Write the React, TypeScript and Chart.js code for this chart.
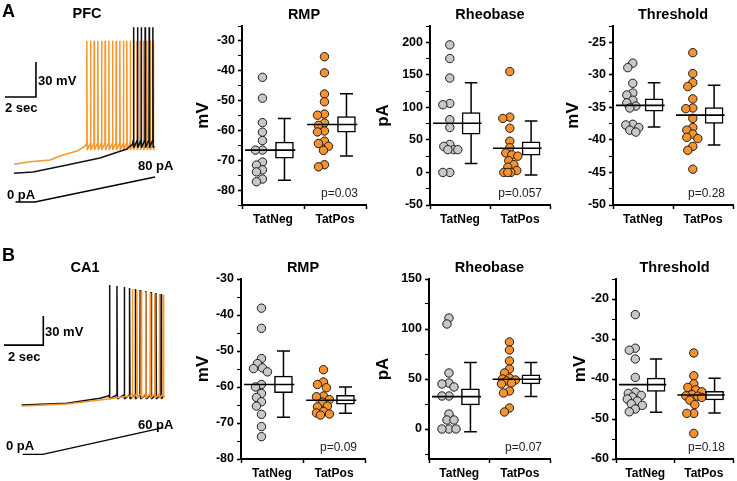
import React, { useEffect, useRef } from 'react';
import { Chart, registerables } from 'chart.js';

Chart.register(...registerables);

const FONT = "'Liberation Sans', Arial, Helvetica, sans-serif";
Chart.defaults.font.family = FONT;
Chart.defaults.color = '#000';

const GROUPS = ['TatNeg', 'TatPos'];
const GRAY = '#C8C8C8';
const ORANGE = '#F7922F';
const TRACE_ORANGE = '#F7962A';

// ---------------- PFC (A) scatter data ----------------
const pfcRmpNeg = [-42.2, -49.2, -57.4, -60.6, -63.4, -66.6, -66.6, -70.6, -71.6, -73.2, -73.9, -76.3, -77.2];
const pfcRmpPos = [-35.3, -40.7, -47.8, -50.4, -54.5, -54.9, -57.5, -58.3, -60.2, -60.5, -63.6, -64.4, -65.3, -66.7, -71.5, -72.2];
const pfcRmpMean = [-66.6, -58.0];
const pfcRmpSem = [[-69.3, -63.9], [-60.6, -55.4]];
const pfcRmpSd = [[-76.7, -56.0], [-68.6, -47.7]];

const pfcRheoNeg = [196, 175, 145, 106, 104, 81, 69, 43, 40, 35, 35, 35, 0, 0];
const pfcRheoPos = [155, 85, 83, 68, 48, 38, 30, 27, 25, 18, 12, 8, 3, 0, 0, 0];
const pfcRheoMean = [75.5, 37.2];
const pfcRheoSem = [[58.7, 91.8], [26.5, 47.0]];
const pfcRheoSd = [[13.8, 137.8], [-4.0, 79.0]];

const pfcThrNeg = [-28.2, -28.9, -31.3, -32.8, -33.1, -33.9, -34.3, -34.8, -35.1, -37.6, -37.7, -38.1, -38.5, -38.8];
const pfcThrPos = [-26.6, -29.8, -31.2, -31.8, -33.7, -35.1, -35.2, -36.7, -38.1, -38.5, -39.1, -39.6, -39.8, -41.0, -41.6, -44.5];
const pfcThrMean = [-34.7, -36.2];
const pfcThrSem = [[-35.6, -33.7], [-37.45, -35.05]];
const pfcThrSd = [[-38.0, -31.2], [-40.8, -31.6]];

// ---------------- CA1 (B) scatter data ----------------
const ca1RmpNeg = [-38.1, -43.7, -52.1, -53.5, -54.7, -54.9, -55.8, -59.3, -60.0, -61.8, -62.9, -64.1, -65.3, -67.6, -71.0, -73.8];
const ca1RmpPos = [-55.2, -58.6, -59.3, -60.2, -62.5, -62.7, -63.5, -64.2, -65.3, -65.5, -66.8, -67.2, -67.5, -67.8];
const ca1RmpMean = [-59.3, -63.7];
const ca1RmpSem = [[-61.6, -57.0], [-64.8, -62.3]];
const ca1RmpSd = [[-68.4, -50.0], [-67.3, -60.0]];

const ca1RheoNeg = [111, 105, 56, 46, 45, 42, 33, 33, 15, 9, 9, 0, 0, 0];
const ca1RheoPos = [87, 79, 68, 60, 56, 51, 50, 49, 48, 46, 45, 38, 36, 21, 17];
const ca1RheoMean = [32.4, 49.8];
const ca1RheoSem = [[24.1, 40.1], [45.2, 54.2]];
const ca1RheoSd = [[-2.7, 66.6], [32.4, 66.6]];

const ca1ThrNeg = [-23.9, -32.3, -32.8, -35.0, -39.6, -43.3, -43.6, -44.1, -44.5, -45.0, -45.5, -46.2, -46.6, -47.5, -48.2];
const ca1ThrPos = [-33.5, -39.2, -41.2, -42.1, -42.7, -43.2, -43.9, -44.2, -44.3, -44.6, -45.3, -46.4, -48.6, -48.6, -53.6];
const ca1ThrMean = [-41.4, -44.0];
const ca1ThrSem = [[-43.1, -39.8], [-45.25, -43.1]];
const ca1ThrSd = [[-48.3, -35.0], [-48.5, -39.8]];

// ---------------- Traces (time s, membrane mV) ----------------
const pfcBlackBase = [[-0.1, -70.4], [1.13, -69.3], [3.32, -63.3], [5.45, -57.3], [7.19, -49.6], [7.55, -45.5]];
const pfcBlackSpikes = [7.60, 7.86, 8.10, 8.35, 8.61, 8.85];
const pfcBlackPeaks = [54.7, 54.7, 54.7, 54.7, 54.7, 54.7];
const pfcBlackLevels = [-42.0, -48.4]; // threshold, trough
const pfcBlackEnd = [8.95, -47.0];

const pfcOrangeBase = [[-0.1, -62.7], [0.93, -60.5], [2.23, -59.0], [3.06, -54.7], [3.97, -51.3], [4.5, -47.0]];
const pfcOrangeSpikes = [4.59, 4.83, 5.06, 5.30, 5.54, 5.77, 6.01, 6.25, 6.48, 6.72, 6.95, 7.17, 7.39, 7.60, 7.82, 8.03, 8.25, 8.46, 8.68, 8.87];
const pfcOrangePeaks = [43.3, 43.3, 43.3, 43.3, 43.3, 43.3, 43.3, 43.3, 43.3, 43.3, 43.3, 43.3, 43.3, 43.3, 43.3, 43.3, 43.3, 43.3, 43.3, 43.3];
const pfcOrangeLevels = [-44.4, -50.4];
const pfcOrangeEnd = [8.95, -48.0];

const pfcRamp = [[0, 0], [1.25, 0], [9.0, 80]]; // s, pA
const pfcScaleBar = [[-0.68, -5], [1.32, -5], [1.32, 25]]; // 2 s, 30 mV

const ca1BlackBase = [[0.1, -70.0], [2.39, -68.2], [4.08, -63.0], [4.5, -60.6]];
const ca1BlackSpikes = [4.55, 4.93, 5.30, 5.57, 5.86, 6.11, 6.40, 6.66, 6.91, 7.17];
const ca1BlackPeaks = [54.1, 53.1, 52.1, 51.0, 50.0, 49.0, 47.9, 46.9, 45.9, 44.8];
const ca1BlackLevels = [-59.6, -63.7];
const ca1BlackEnd = [7.3, -61.0];

const ca1OrangeBase = [[0.1, -71.0], [2.39, -68.9], [4.08, -64.8], [5.6, -60.6]];
const ca1OrangeSpikes = [5.71, 5.94, 6.16, 6.39, 6.62, 6.85, 7.08, 7.28];
const ca1OrangePeaks = [50.0, 49.0, 47.9, 46.9, 45.9, 44.8, 44.8, 43.8];
const ca1OrangeLevels = [-58.6, -62.7];
const ca1OrangeEnd = [7.35, -60.0];

const ca1Ramp = [[0.15, 0], [1.17, 0], [7.3, 60]];
const ca1ScaleBar = [[-0.8, -8], [1.2, -8], [1.2, 22]];

// ---------------- helpers ----------------
// Beeswarm-style horizontal placement (in pixel space) so that markers do not pile up.
function swarm(values: number[], center: number, pxX: number, pxY: number) {
  const minD = 6.2;
  const maxDx = 8;
  const placed: { dx: number; py: number }[] = [];
  const out: { x: number; y: number }[] = [];
  const idx = values.map((_, i) => i).sort((a, b) => values[b] - values[a]);
  for (const i of idx) {
    const py = values[i] * pxY;
    let chosen = 0;
    let bestScore = -1;
    for (let k = 0; k <= maxDx * 2; k++) {
      const dx = (k % 2 === 1 ? -1 : 1) * Math.ceil(k / 2);
      let dmin = Infinity;
      for (const p of placed) dmin = Math.min(dmin, Math.hypot(p.dx - dx, p.py - py));
      if (dmin >= minD) { chosen = dx; bestScore = Infinity; break; }
      if (dmin > bestScore) { bestScore = dmin; chosen = dx; }
    }
    placed.push({ dx: chosen, py });
    out.push({ x: center + chosen / pxX, y: values[i] });
  }
  return out;
}

function buildTrace(base: number[][], spikes: number[], peaks: number[], levels: number[], end: number[]) {
  const pts: { x: number; y: number }[] = base.map(([x, y]) => ({ x, y }));
  spikes.forEach((t, i) => {
    pts.push({ x: t, y: levels[0] }, { x: t + 0.012, y: peaks[i] }, { x: t + 0.035, y: levels[1] });
  });
  pts.push({ x: end[0], y: end[1] });
  return pts;
}

const pvalPlugin = {
  id: 'pval',
  afterDraw(chart: any, _args: any, opts: any) {
    if (!opts || !opts.text) return;
    const { ctx, chartArea } = chart;
    ctx.save();
    ctx.font = `12px ${FONT}`;
    ctx.fillStyle = '#222';
    ctx.textAlign = 'right';
    ctx.textBaseline = 'middle';
    ctx.fillText(opts.text, chartArea.right - 8, chartArea.bottom - 11);
    ctx.restore();
  },
};

type PanelCfg = {
  key: string;
  left: number; top: number; width: number; height: number;
  yW: number; rightPad: number; xH: number; titleTop: number;
  unitPad: number;
  title: string; unit: string; p: string;
  min: number; max: number; major: number; minor: number;
  neg: number[]; pos: number[]; mean: number[]; sem: number[][]; sd: number[][];
};

const TITLE_SIZE = 14.5;
const TITLE_BOTTOM = 2.6;

const panels: PanelCfg[] = [
  { key: 'pfcRmp', left: 178, top: 0, width: 192, height: 235, yW: 64, rightPad: 4, xH: 30, titleTop: 6, unitPad: 14.8,
    title: 'RMP', unit: 'mV', p: 'p=0.03', min: -85, max: -25, major: 10, minor: 5,
    neg: pfcRmpNeg, pos: pfcRmpPos, mean: pfcRmpMean, sem: pfcRmpSem, sd: pfcRmpSd },
  { key: 'pfcRheo', left: 370, top: 0, width: 184, height: 235, yW: 60, rightPad: 4, xH: 30, titleTop: 6, unitPad: 2.8,
    title: 'Rheobase', unit: 'pA', p: 'p=0.057', min: -50, max: 225, major: 50, minor: 25,
    neg: pfcRheoNeg, pos: pfcRheoPos, mean: pfcRheoMean, sem: pfcRheoSem, sd: pfcRheoSd },
  { key: 'pfcThr', left: 553, top: 0, width: 184, height: 235, yW: 60, rightPad: 4, xH: 30, titleTop: 6, unitPad: 9.8,
    title: 'Threshold', unit: 'mV', p: 'p=0.28', min: -50, max: -22.5, major: 5, minor: 2.5,
    neg: pfcThrNeg, pos: pfcThrPos, mean: pfcThrMean, sem: pfcThrSem, sd: pfcThrSd },
  { key: 'ca1Rmp', left: 178, top: 245, width: 192, height: 236, yW: 63, rightPad: 5, xH: 22, titleTop: 14, unitPad: 14.8,
    title: 'RMP', unit: 'mV', p: 'p=0.09', min: -80, max: -30, major: 10, minor: 5,
    neg: ca1RmpNeg, pos: ca1RmpPos, mean: ca1RmpMean, sem: ca1RmpSem, sd: ca1RmpSd },
  { key: 'ca1Rheo', left: 369, top: 245, width: 185, height: 236, yW: 60, rightPad: 4, xH: 22, titleTop: 14, unitPad: 3.8,
    title: 'Rheobase', unit: 'pA', p: 'p=0.07', min: -30, max: 150, major: 50, minor: 25,
    neg: ca1RheoNeg, pos: ca1RheoPos, mean: ca1RheoMean, sem: ca1RheoSem, sd: ca1RheoSd },
  { key: 'ca1Thr', left: 556, top: 245, width: 181, height: 236, yW: 60, rightPad: 4, xH: 22, titleTop: 14, unitPad: 13.8,
    title: 'Threshold', unit: 'mV', p: 'p=0.18', min: -60, max: -15, major: 10, minor: 5,
    neg: ca1ThrNeg, pos: ca1ThrPos, mean: ca1ThrMean, sem: ca1ThrSem, sd: ca1ThrSd },
];

function ScatterPanel({ p }: { p: PanelCfg }) {
  const ref = useRef<HTMLCanvasElement>(null);
  useEffect(() => {
    const titleH = TITLE_SIZE * 1.2 + p.titleTop + TITLE_BOTTOM;
    const chartW = p.width - p.yW - p.rightPad;
    const chartH = p.height - titleH - p.xH;
    const pxX = chartW / 4;
    const pxY = chartH / (p.max - p.min);
    const centers = [1, 3];
    const datasets: any[] = [];
    [p.neg, p.pos].forEach((vals, g) => {
      datasets.push({
        type: 'scatter',
        data: swarm(vals, centers[g] - 0.34, pxX, pxY),
        backgroundColor: g ? ORANGE : GRAY,
        borderColor: '#1a1a1a',
        borderWidth: 1,
        pointRadius: 4.2,
        order: 3,
      });
    });
    const whisk: any[] = [];
    const means: any[] = [];
    const boxes: any[] = [];
    centers.forEach((c, g) => {
      const bc = c + 0.37;
      const [lo, hi] = p.sd[g];
      whisk.push(
        { x: bc - 0.21, y: hi }, { x: bc + 0.21, y: hi }, { x: bc, y: null },
        { x: bc, y: hi }, { x: bc, y: lo }, { x: bc, y: null },
        { x: bc - 0.21, y: lo }, { x: bc + 0.21, y: lo }, { x: bc, y: null },
      );
      means.push({ x: c - 0.9, y: p.mean[g] }, { x: c + 0.72, y: p.mean[g] }, { x: c + 0.8, y: null });
      boxes.push({ x: bc, y: p.sem[g] });
    });
    datasets.push({ type: 'line', data: whisk, borderColor: '#000', borderWidth: 1.5, pointRadius: 0, spanGaps: false, order: 2 });
    datasets.push({
      type: 'bar', data: boxes, backgroundColor: '#fff', borderColor: '#000', borderWidth: 1.5,
      borderSkipped: false, barThickness: 18, order: 1,
    });
    datasets.push({ type: 'line', data: means, borderColor: '#000', borderWidth: 1.6, pointRadius: 0, spanGaps: false, order: 0 });

    const isMajor = (v: number) => Math.abs(v / p.major - Math.round(v / p.major)) < 1e-6;

    const chart = new Chart(ref.current as HTMLCanvasElement, {
      type: 'scatter',
      data: { datasets },
      plugins: [pvalPlugin],
      options: {
        responsive: false,
        maintainAspectRatio: false,
        animation: false,
        events: [],
        layout: { padding: { left: 0, top: 0, right: p.rightPad, bottom: 0 }, autoPadding: false },
        plugins: {
          legend: { display: false },
          tooltip: { enabled: false },
          title: {
            display: true, text: p.title, fullSize: false, color: '#000',
            font: { size: TITLE_SIZE, weight: 'bold', family: FONT },
            padding: { top: p.titleTop, bottom: TITLE_BOTTOM },
          },
          pval: { text: p.p },
        } as any,
        scales: {
          x: {
            type: 'linear', min: 0, max: 4, offset: false,
            afterBuildTicks: (s: any) => { s.ticks = [{ value: 1 }, { value: 3 }]; },
            afterFit: (s: any) => { s.height = p.xH; s.paddingLeft = 0; s.paddingRight = 0; },
            ticks: {
              autoSkip: false, maxRotation: 0, padding: 3, color: '#000',
              font: { size: 12, weight: 'bold', family: FONT },
              callback: (_v: any, i: number) => GROUPS[i],
            },
            grid: { display: true, drawOnChartArea: false, drawTicks: true, tickLength: 4, color: '#000', tickColor: '#000', tickWidth: 1.5 },
            border: { display: true, color: '#000', width: 2 },
          },
          y: {
            type: 'linear', min: p.min, max: p.max,
            afterBuildTicks: (s: any) => {
              const t: any[] = [];
              const start = Math.ceil(p.min / p.minor - 1e-9) * p.minor;
              for (let v = start; v <= p.max + 1e-9; v += p.minor) t.push({ value: Math.round(v * 1000) / 1000 });
              s.ticks = t;
            },
            afterFit: (s: any) => { s.width = p.yW; s.paddingTop = 0; s.paddingBottom = 0; },
            ticks: {
              autoSkip: false, padding: 3, color: '#000',
              font: { size: 12.5, weight: 'bold', family: FONT },
              callback: (v: any) => (isMajor(Number(v)) ? String(v) : ''),
            },
            grid: {
              display: true, drawOnChartArea: false, drawTicks: true, tickLength: 4, color: '#000', tickColor: '#000',
              tickWidth: (ctx: any) => (ctx.tick && isMajor(ctx.tick.value) ? 1.6 : 1.1),
            },
            border: { display: true, color: '#000', width: 2 },
            title: {
              display: true, text: p.unit, color: '#000',
              font: { size: 17, weight: 'bold', family: FONT },
              padding: { top: p.unitPad, bottom: 0 },
            },
          },
        },
      } as any,
    });
    return () => chart.destroy();
  }, []);
  return (
    <canvas
      ref={ref}
      width={p.width}
      height={p.height}
      style={{ position: 'absolute', left: p.left, top: p.top, width: p.width, height: p.height }}
    />
  );
}

type TraceCfg = {
  key: string; left: number; top: number; width: number; height: number;
  tRange: number[]; vRange: number[]; iRange: number[]; blackOnTop: boolean;
  black: any[]; orange: any[]; ramp: number[][]; bar: number[][];
};

const traces: TraceCfg[] = [
  {
    key: 'pfcTrace', left: 0, top: 20, width: 186, height: 210,
    tRange: [-1, 11], vRange: [-119, 61], iRange: [-89.6, 582.4], blackOnTop: true,
    black: buildTrace(pfcBlackBase, pfcBlackSpikes, pfcBlackPeaks, pfcBlackLevels, pfcBlackEnd),
    orange: buildTrace(pfcOrangeBase, pfcOrangeSpikes, pfcOrangePeaks, pfcOrangeLevels, pfcOrangeEnd),
    ramp: pfcRamp, bar: pfcScaleBar,
  },
  {
    key: 'ca1Trace', left: 0, top: 260, width: 186, height: 210,
    tRange: [-1, 8.45], vRange: [-137.2, 80], iRange: [-35.1, 435], blackOnTop: false,
    black: buildTrace(ca1BlackBase, ca1BlackSpikes, ca1BlackPeaks, ca1BlackLevels, ca1BlackEnd),
    orange: buildTrace(ca1OrangeBase, ca1OrangeSpikes, ca1OrangePeaks, ca1OrangeLevels, ca1OrangeEnd),
    ramp: ca1Ramp, bar: ca1ScaleBar,
  },
];

function TraceChart({ t }: { t: TraceCfg }) {
  const ref = useRef<HTMLCanvasElement>(null);
  useEffect(() => {
    const chart = new Chart(ref.current as HTMLCanvasElement, {
      type: 'line',
      data: {
        datasets: [
          { data: t.black, borderColor: '#111', borderWidth: 1.5, pointRadius: 0, borderJoinStyle: 'bevel', order: t.blackOnTop ? 0 : 1, yAxisID: 'y' },
          { data: t.orange, borderColor: TRACE_ORANGE, borderWidth: 1.5, pointRadius: 0, borderJoinStyle: 'bevel', order: t.blackOnTop ? 1 : 0, yAxisID: 'y' },
          { data: t.bar.map(([x, y]) => ({ x, y })), borderColor: '#000', borderWidth: 1.6, pointRadius: 0, order: 2, yAxisID: 'y' },
          { data: t.ramp.map(([x, y]) => ({ x, y })), borderColor: '#000', borderWidth: 1.3, pointRadius: 0, order: 2, yAxisID: 'yI' },
        ],
      },
      options: {
        responsive: false,
        maintainAspectRatio: false,
        animation: false,
        events: [],
        layout: { padding: 0, autoPadding: false },
        plugins: { legend: { display: false }, tooltip: { enabled: false } },
        scales: {
          x: { type: 'linear', min: t.tRange[0], max: t.tRange[1], display: false },
          y: { type: 'linear', min: t.vRange[0], max: t.vRange[1], display: false },
          yI: { type: 'linear', min: t.iRange[0], max: t.iRange[1], display: false },
        },
      } as any,
    });
    return () => chart.destroy();
  }, []);
  return (
    <canvas
      ref={ref}
      width={t.width}
      height={t.height}
      style={{ position: 'absolute', left: t.left, top: t.top, width: t.width, height: t.height }}
    />
  );
}

type Lbl = { text: string; x: number; y: number; size: number; center?: boolean };
const labels: Lbl[] = [
  { text: 'A', x: 2, y: 11, size: 18 },
  { text: 'PFC', x: 87, y: 13, size: 14.5, center: true },
  { text: '30 mV', x: 38, y: 80, size: 13 },
  { text: '2 sec', x: 5, y: 107, size: 13 },
  { text: '0 pA', x: 7, y: 194, size: 13 },
  { text: '80 pA', x: 138, y: 165, size: 13 },
  { text: 'B', x: 2, y: 254.5, size: 18 },
  { text: 'CA1', x: 85, y: 267, size: 14.5, center: true },
  { text: '30 mV', x: 45, y: 331, size: 13 },
  { text: '2 sec', x: 8, y: 356, size: 13 },
  { text: '0 pA', x: 6, y: 445, size: 13 },
  { text: '60 pA', x: 138, y: 424, size: 13 },
];

export default function App() {
  return (
    <div
      style={{
        position: 'absolute', left: 0, top: 0, width: 737, height: 481,
        background: '#fff', overflow: 'hidden', fontFamily: FONT,
      }}
    >
      {traces.map((t) => <TraceChart key={t.key} t={t} />)}
      {panels.map((p) => <ScatterPanel key={p.key} p={p} />)}
      {labels.map((l, i) => (
        <div
          key={i}
          style={{
            position: 'absolute',
            left: l.x,
            top: l.y - l.size * 0.49,
            fontSize: l.size,
            lineHeight: 1,
            fontWeight: 'bold',
            whiteSpace: 'nowrap',
            color: '#000',
            transform: l.center ? 'translateX(-50%)' : undefined,
          }}
        >
          {l.text}
        </div>
      ))}
    </div>
  );
}
